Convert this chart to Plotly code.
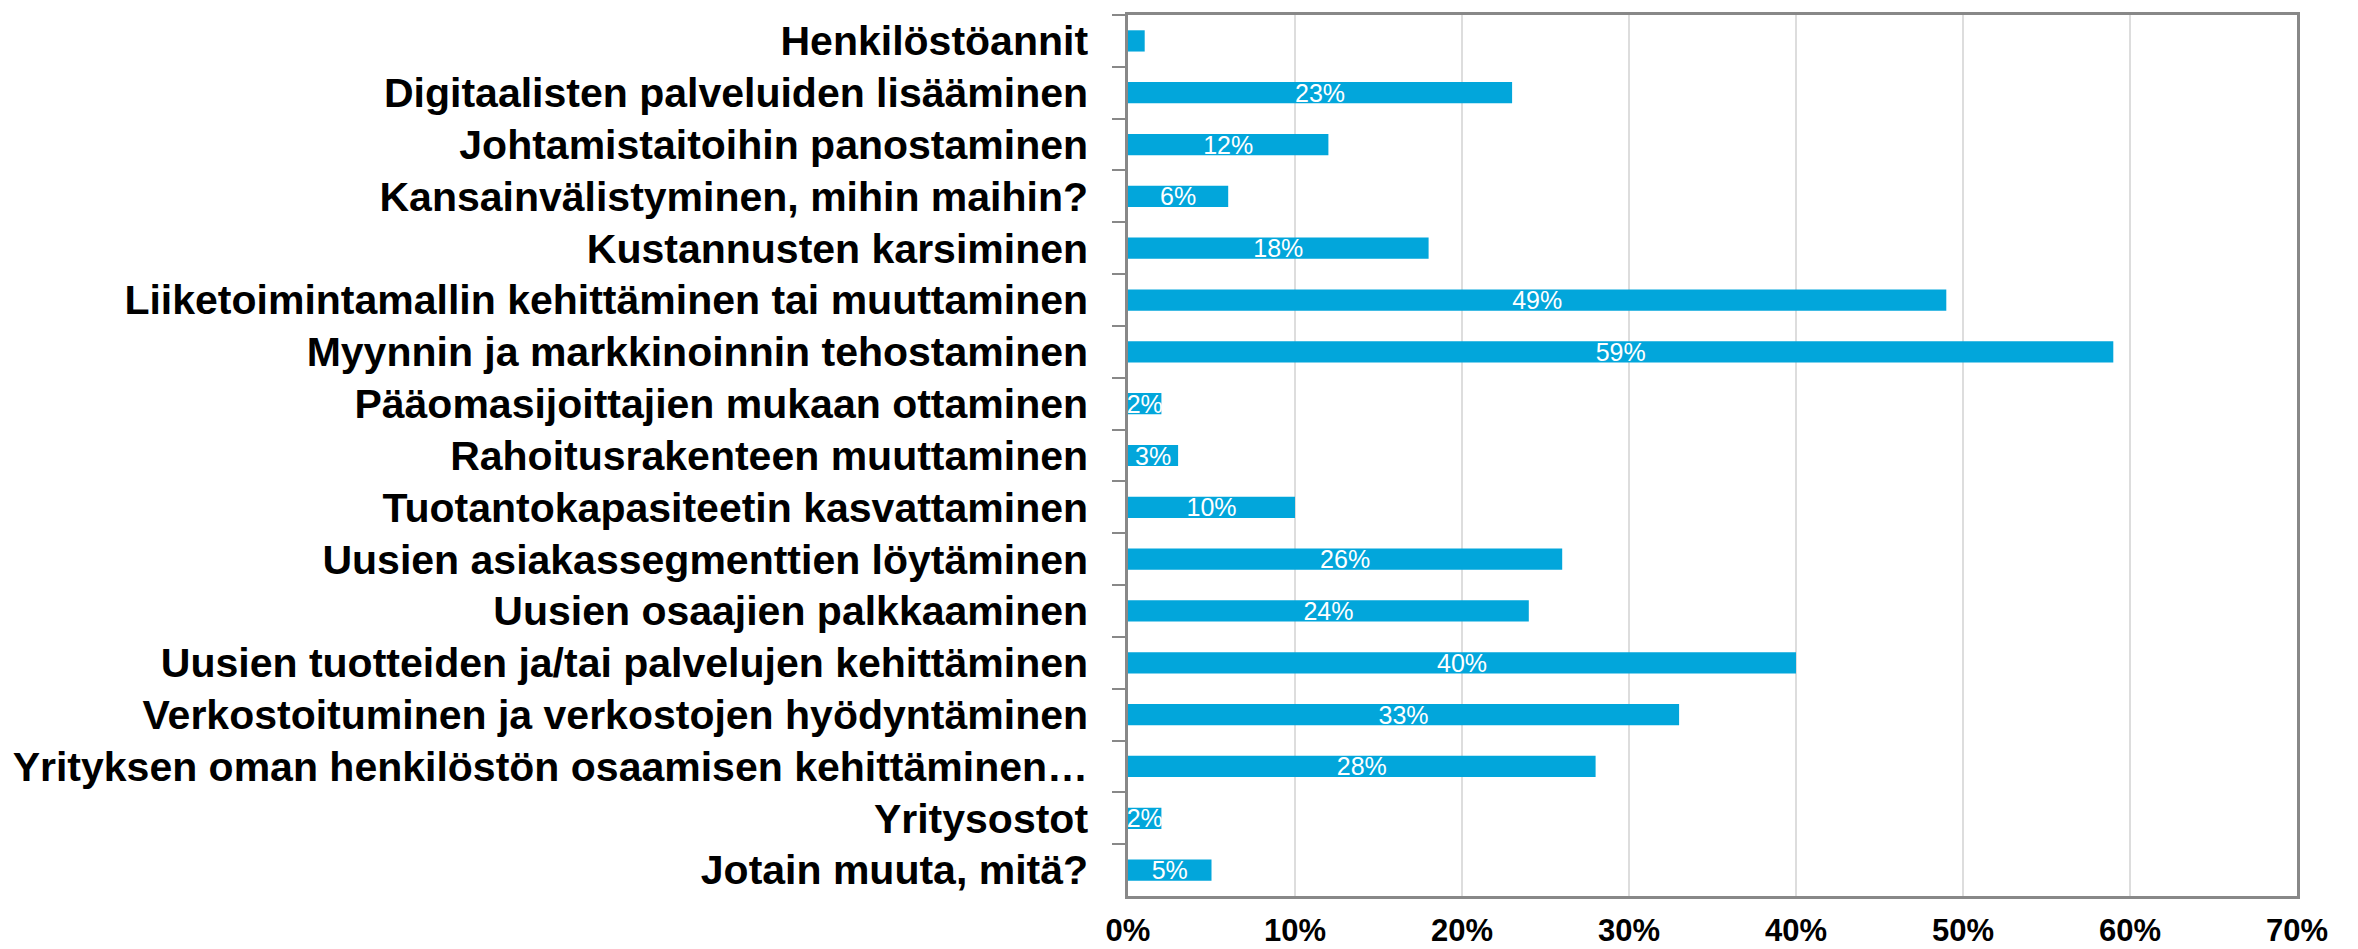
import plotly.graph_objects as go

# =========================================================
# DATA
# =========================================================
categories = [
    "Henkilöstöannit",
    "Digitaalisten palveluiden lisääminen",
    "Johtamistaitoihin panostaminen",
    "Kansainvälistyminen, mihin maihin?",
    "Kustannusten karsiminen",
    "Liiketoimintamallin kehittäminen tai muuttaminen",
    "Myynnin ja markkinoinnin tehostaminen",
    "Pääomasijoittajien mukaan ottaminen",
    "Rahoitusrakenteen muuttaminen",
    "Tuotantokapasiteetin kasvattaminen",
    "Uusien asiakassegmenttien löytäminen",
    "Uusien osaajien palkkaaminen",
    "Uusien tuotteiden ja/tai palvelujen kehittäminen",
    "Verkostoituminen ja verkostojen hyödyntäminen",
    "Yrityksen oman henkilöstön osaamisen kehittäminen…",
    "Yritysostot",
    "Jotain muuta, mitä?",
]
values = [1, 23, 12, 6, 18, 49, 59, 2, 3, 10, 26, 24, 40, 33, 28, 2, 5]
# the 1% bar carries no label in the original
labels = ["" if v <= 1 else f"{v}%" for v in values]

tick_vals = [0, 10, 20, 30, 40, 50, 60, 70]
tick_text = ["0%", "10%", "20%", "30%", "40%", "50%", "60%", "70%"]

BAR_COLOR = "#02A6DB"
AXIS_COLOR = "#888888"
GRID_COLOR = "#DDDDDD"
FONT = "Liberation Sans, Arial, sans-serif"

W, H = 2358, 949

# =========================================================
# FIGURE
# =========================================================
fig = go.Figure()

fig.add_trace(go.Bar(
    x=values,
    y=categories,
    orientation="h",
    marker=dict(color=BAR_COLOR, line=dict(width=0)),
    text=labels,
    textposition="inside",
    insidetextanchor="middle",
    constraintext="none",
    textfont=dict(family=FONT, size=25, color="white"),
    hoverinfo="x+y",
))

fig.update_layout(
    width=W,
    height=H,
    margin=dict(l=1128, r=61, t=15, b=53, autoexpand=False),
    paper_bgcolor="white",
    plot_bgcolor="white",
    bargap=0.59,
    showlegend=False,
    font=dict(family=FONT, color="black"),
    xaxis=dict(
        range=[0, 70],
        tickmode="array",
        tickvals=tick_vals,
        ticktext=tick_text,
        tickfont=dict(family=FONT, size=31, color="black", weight="bold"),
        showgrid=True,
        gridcolor=GRID_COLOR,
        gridwidth=1.5,
        zeroline=False,
        showline=True,
        mirror=True,
        linecolor=AXIS_COLOR,
        linewidth=2.5,
        ticks="",
        ticklabelstandoff=5,
    ),
    # only used for the short tick marks along the top edge
    xaxis2=dict(
        overlaying="x",
        side="top",
        anchor="y",
        range=[0, 70],
        tickmode="array",
        tickvals=tick_vals,
        showticklabels=False,
        showgrid=False,
        zeroline=False,
        showline=True,
        linecolor=AXIS_COLOR,
        linewidth=2.5,
        ticks="outside",
        ticklen=9,
        tickwidth=2,
        tickcolor=AXIS_COLOR,
    ),
    yaxis=dict(
        autorange="reversed",
        tickson="boundaries",
        ticks="outside",
        ticklen=13,
        tickwidth=2,
        tickcolor=AXIS_COLOR,
        showline=True,
        linecolor=AXIS_COLOR,
        linewidth=2.5,
        mirror=True,
        showgrid=False,
        tickfont=dict(family=FONT, size=41, color="black", weight="bold"),
        ticklabelstandoff=29,
    ),
)

# drop the default 8px body margin so the figure fills the window exactly
fig.write_html(
    "out.html",
    config={"displayModeBar": False},
    post_script="document.body.style.margin='0px';",
)
